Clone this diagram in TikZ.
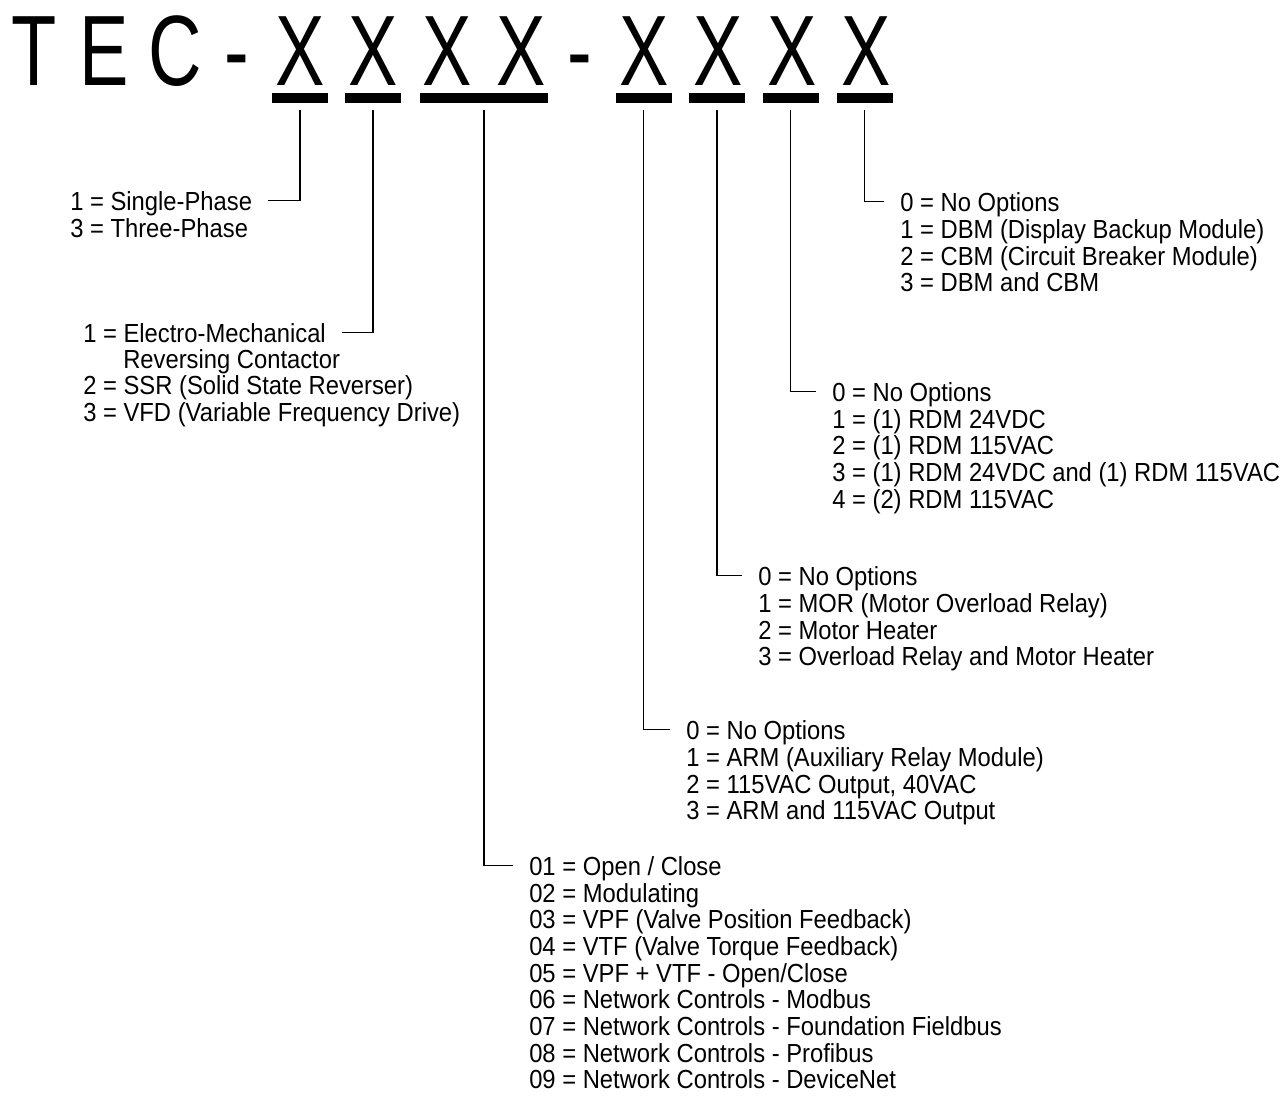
\documentclass[tikz,border=0pt]{standalone}
\usepackage{fontspec}
\setmainfont{Liberation Sans}[FakeStretch=0.91]
\newfontfamily\headfont{Liberation Sans}[FakeStretch=0.74]

\tikzset{
  code char/.style={anchor=base, inner sep=0pt, font=\headfont\fontsize{75}{75}\selectfont},
  code bar/.style={fill=black, inner sep=0pt, minimum height=7.5pt, minimum width=42pt},
  entry/.style={anchor=base west, inner sep=0pt, text height=14pt, text depth=0pt,
    font=\fontsize{19.6}{20}\selectfont},
  lead/.style={line width=0.9pt, shorten <=5pt, shorten >=12pt},
}

\begin{document}
\begin{tikzpicture}[x=0.75pt, y=-0.75pt]
    \useasboundingbox (0,0) rectangle (1280,1097);
    % model code
    \node[code char] (t)      at (34,85)  {T};
    \node[code char] (e)      at (104,85) {E};
    \node[code char] (c)      at (175,85) {C};
    \node[code char] (dash 1) at (237,85) {-};
    \node[code char] (x1)     at (300,85) {X};
    \node[code char] (x2)     at (373,85) {X};
    \node[code char] (x3)     at (447,85) {X};
    \node[code char] (x4)     at (521,85) {X};
    \node[code char] (dash 2) at (580,85) {-};
    \node[code char] (x5)     at (644,85) {X};
    \node[code char] (x6)     at (718,85) {X};
    \node[code char] (x7)     at (792,85) {X};
    \node[code char] (x8)     at (866,85) {X};
    % underlines
    \node[code bar] (bar phase)    at (300,98)   {};
    \node[code bar] (bar reverser) at (373,98)   {};
    \node[code bar, minimum width=96pt] (bar control) at (484,98) {};
    \node[code bar] (bar aux)      at (643.5,98) {};
    \node[code bar] (bar motor)    at (717,98)   {};
    \node[code bar] (bar rdm)      at (790.5,98) {};
    \node[code bar] (bar module)   at (864.5,98) {};
    % phase
    \node[entry] (phase 1) at (70,210) {1 = Single-Phase};
    \node[entry] (phase 3) at (70,237) {3 = Three-Phase};
    % reverser
    \node[entry] (reverser 1)  at (83,342)  {1 = Electro-Mechanical};
    \node[entry] (reverser 1b) at (123,368) {Reversing Contactor};
    \node[entry] (reverser 2)  at (83,394)  {2 = SSR (Solid State Reverser)};
    \node[entry] (reverser 3)  at (83,421)  {3 = VFD (Variable Frequency Drive)};
    % control
    \node[entry] (control 01) at (529,875)  {01 = Open / Close};
    \node[entry] (control 02) at (529,902)  {02 = Modulating};
    \node[entry] (control 03) at (529,928)  {03 = VPF (Valve Position Feedback)};
    \node[entry] (control 04) at (529,955)  {04 = VTF (Valve Torque Feedback)};
    \node[entry] (control 05) at (529,982)  {05 = VPF + VTF - Open/Close};
    \node[entry] (control 06) at (529,1008) {06 = Network Controls - Modbus};
    \node[entry] (control 07) at (529,1035) {07 = Network Controls - Foundation Fieldbus};
    \node[entry] (control 08) at (529,1062) {08 = Network Controls - Profibus};
    \node[entry] (control 09) at (529,1088) {09 = Network Controls - DeviceNet};
    % auxiliary
    \node[entry] (aux 0) at (686,739) {0 = No Options};
    \node[entry] (aux 1) at (686,766) {1 = ARM (Auxiliary Relay Module)};
    \node[entry] (aux 2) at (686,793) {2 = 115VAC Output, 40VAC};
    \node[entry] (aux 3) at (686,819) {3 = ARM and 115VAC Output};
    % motor
    \node[entry] (motor 0) at (758,585) {0 = No Options};
    \node[entry] (motor 1) at (758,612) {1 = MOR (Motor Overload Relay)};
    \node[entry] (motor 2) at (758,639) {2 = Motor Heater};
    \node[entry] (motor 3) at (758,665) {3 = Overload Relay and Motor Heater};
    % rdm
    \node[entry] (rdm 0) at (832,401) {0 = No Options};
    \node[entry] (rdm 1) at (832,428) {1 = (1) RDM 24VDC};
    \node[entry] (rdm 2) at (832,454) {2 = (1) RDM 115VAC};
    \node[entry] (rdm 3) at (832,481) {3 = (1) RDM 24VDC and (1) RDM 115VAC};
    \node[entry] (rdm 4) at (832,508) {4 = (2) RDM 115VAC};
    % module
    \node[entry] (module 0) at (900,211) {0 = No Options};
    \node[entry] (module 1) at (900,238) {1 = DBM (Display Backup Module)};
    \node[entry] (module 2) at (900,265) {2 = CBM (Circuit Breaker Module)};
    \node[entry] (module 3) at (900,291) {3 = DBM and CBM};
    % leads
    \draw[lead] (bar phase.south)    |- (phase 1.east);
    \draw[lead] (bar reverser.south) |- (reverser 1.east);
    \draw[lead] (bar control.south)  |- (control 01.west);
    \draw[lead] (bar aux.south)      |- (aux 0.west);
    \draw[lead] (bar motor.south)    |- (motor 0.west);
    \draw[lead] (bar rdm.south)      |- (rdm 0.west);
    \draw[lead] (bar module.south)   |- (module 0.west);
\end{tikzpicture}
\end{document}
